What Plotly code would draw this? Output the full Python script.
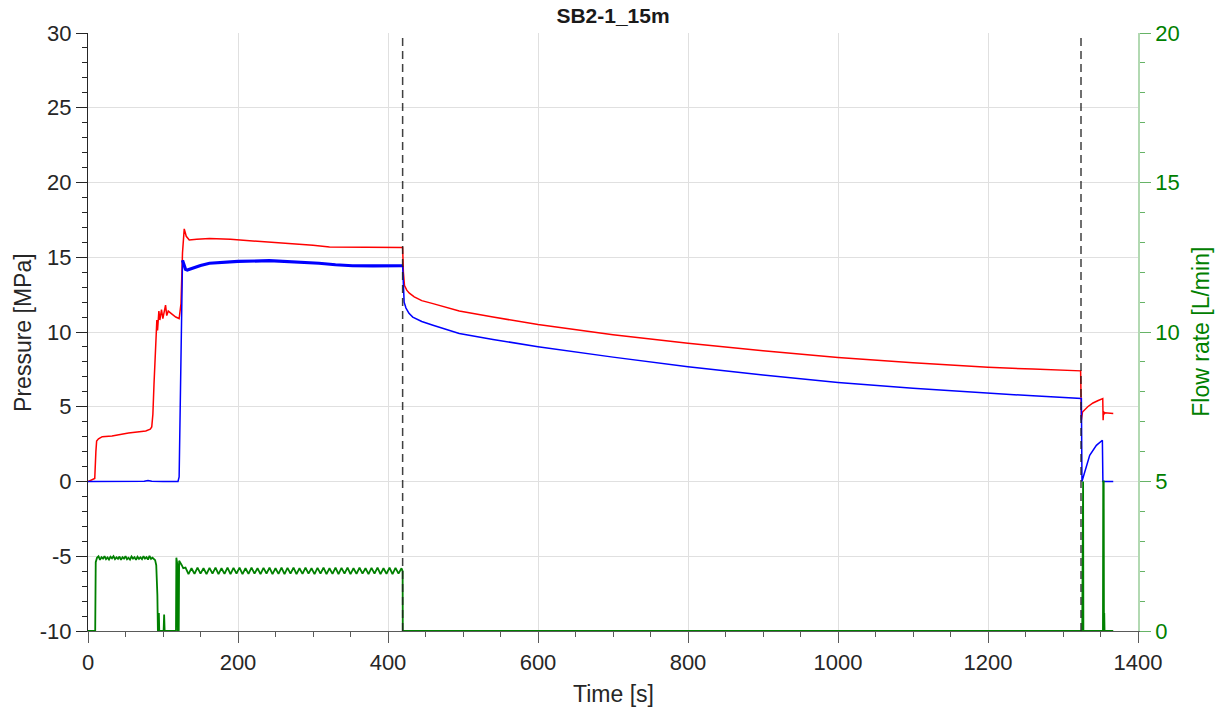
import plotly.graph_objects as go

# ---------------- data ----------------
# Red pressure [MPa]: (time s, value)
red_pts = [
    (0, 0), (5, 0.1), (9, 0.2), (10.5, 2.0), (11.5, 2.7), (14, 2.85), (19, 3.0), (32, 3.05),
    (54, 3.25), (77, 3.38), (83, 3.5), (85, 3.65), (86.5, 4.5), (88, 6.5), (89.5, 8.6),
    (91, 10.1), (91.8, 10.8), (92.7, 10.1), (94.5, 11.4), (95.8, 10.8), (98, 11.5),
    (99.8, 10.9), (103.4, 11.8), (105, 11.1), (107, 11.4), (112, 11.2), (117, 11.0),
    (121.5, 10.9), (124, 11.9), (126, 15.3), (128.3, 16.9), (131, 16.4), (135, 16.15),
    (145, 16.2), (162, 16.25), (190, 16.2), (220, 16.1), (264, 15.95), (300, 15.8),
    (322, 15.68), (360, 15.67), (400, 15.66), (419.5, 15.65), (420.5, 14.0), (422, 13.1),
    (425, 12.8), (428.5, 12.6), (435, 12.35), (445, 12.1), (460, 11.9), (472, 11.74),
    (495, 11.4), (540, 11.0), (600, 10.5), (700, 9.82), (800, 9.24), (900, 8.74),
    (1000, 8.3), (1100, 7.95), (1200, 7.64), (1260, 7.52), (1323.5, 7.4), (1324.5, 4.1),
    (1325, 4.4), (1326, 4.65), (1333, 5.0), (1340, 5.25), (1347, 5.42), (1353, 5.55),
    (1353.5, 4.1), (1354, 4.7), (1355, 4.5), (1356, 4.6), (1367, 4.55),
]

# Blue pressure [MPa], before the noisy plateau
blue_pre_pts = [
    (0, 0), (60, 0), (75, 0.02), (80, 0.07), (85, 0.02), (100, 0), (120, 0), (121.5, 0.3),
    (123, 5.0), (124.5, 12.0), (126, 14.8),
]
# Blue noisy plateau
blue_plateau_pts = [
    (126, 14.8), (128, 14.5), (130, 14.2), (132.4, 14.15), (140, 14.3), (150, 14.45),
    (162, 14.6), (180, 14.65), (200, 14.72), (241.6, 14.77), (270, 14.72), (308, 14.6),
    (330, 14.5), (352.7, 14.43), (380, 14.42), (419.5, 14.43),
]
# Blue after shut-in
blue_post_pts = [
    (419.5, 14.43), (420.5, 12.6), (421.5, 12.0), (424, 11.6), (428, 11.25), (433, 11.0),
    (445, 10.7), (460, 10.45), (472, 10.25), (495, 9.9), (540, 9.5), (600, 9.02),
    (700, 8.32), (800, 7.68), (900, 7.12), (1000, 6.63), (1100, 6.24), (1200, 5.9),
    (1260, 5.73), (1324.5, 5.56), (1325.3, 0), (1329, 0.64), (1335.6, 1.75),
    (1344.5, 2.42), (1352.5, 2.76), (1353.2, 0), (1367, 0),
]

# Green flow rate [L/min]
green_pts = [
    (0, 0), (9.6, 0), (10.3, 2.3), (11.2, 2.4), (12, 2.45), (14, 2.5), (16, 2.38), (18, 2.47),
    (20, 2.42), (22, 2.5), (24, 2.4), (26, 2.46), (28, 2.39), (30, 2.48), (32, 2.43),
    (34, 2.5), (36, 2.4), (38, 2.46), (40, 2.41), (42, 2.49), (44, 2.38), (46, 2.47),
    (48, 2.42), (50, 2.5), (52, 2.4), (54, 2.45), (56, 2.39), (58, 2.49), (60, 2.42),
    (62, 2.47), (64, 2.38), (66, 2.48), (68, 2.41), (70, 2.46), (72, 2.4), (74, 2.5),
    (76, 2.42), (78, 2.47), (80, 2.39), (82, 2.51), (84, 2.41), (86, 2.45), (88, 2.4),
    (89.5, 2.37), (91, 2.2), (92.5, 1.2), (93.2, 0), (94, 0), (94.5, 0.6), (95, 0),
    (100.8, 0), (101.5, 0.55), (102.2, 0), (117.3, 0), (117.8, 2.45), (118.6, 2.3),
    (119.3, 2.2), (119.8, 0), (121, 0), (121.5, 2.35), (123, 2.3), (125, 2.2), (127, 2.1),
    (130, 2.12), (134, 1.9), (138, 2.1), (142, 1.91), (146, 2.12), (150, 1.92), (154, 2.1),
    (158, 1.9), (162, 2.11), (166, 1.92), (170, 2.12), (174, 1.9), (178, 2.1), (182, 1.91),
    (186, 2.12), (190, 1.9), (194, 2.11), (198, 1.92), (202, 2.12), (206, 1.9), (210, 2.1),
    (214, 1.91), (218, 2.12), (222, 1.92), (226, 2.1), (230, 1.9), (234, 2.11), (238, 1.92),
    (242, 2.12), (246, 1.9), (250, 2.1), (254, 1.91), (258, 2.12), (262, 1.9), (266, 2.11),
    (270, 1.92), (274, 2.12), (278, 1.9), (282, 2.1), (286, 1.91), (290, 2.12), (294, 1.92),
    (298, 2.1), (302, 1.9), (306, 2.11), (310, 1.92), (314, 2.12), (318, 1.9), (322, 2.1),
    (326, 1.91), (330, 2.12), (334, 1.9), (338, 2.11), (342, 1.92), (346, 2.12), (350, 1.9),
    (354, 2.1), (358, 1.91), (362, 2.12), (366, 1.92), (370, 2.1), (374, 1.9), (378, 2.11),
    (382, 1.92), (386, 2.12), (390, 1.9), (394, 2.1), (398, 1.91), (402, 2.12), (406, 1.9),
    (410, 2.11), (414, 1.92), (418, 2.1), (419.5, 2.0), (419.7, 0), (1325.6, 0),
    (1326, 5.0), (1326.8, 5.0), (1327.2, 0), (1353.3, 0), (1353.6, 5.0), (1354.3, 5.0),
    (1354.6, 0), (1355, 0.6), (1355.4, 0), (1367, 0),
]

# Shut-in / event markers (time, s)
event_times = [419.5, 1324]

# Axes ranges and tick labels
x_range = [0, 1400]
p_range = [-10, 30]
q_range = [0, 20]
p_tick_vals = [-10, -5, 0, 5, 10, 15, 20, 25, 30]
p_tick_text = ["-10", "-5", "0", "5", "10", "15", "20", "25", "30"]

TITLE = "SB2-1_15m"
X_TITLE = "Time [s]"
Y_TITLE = "Pressure [MPa]"
Y2_TITLE = "Flow rate [L/min]"


def unzip(pts):
    return [p[0] for p in pts], [p[1] for p in pts]


FONT = "Liberation Sans, Arial, Helvetica, sans-serif"
TXT = "#262626"
GREEN = "#008000"

fig = go.Figure()

gx, gy = unzip(green_pts)
fig.add_trace(go.Scatter(x=gx, y=gy, mode="lines", yaxis="y2",
                         line=dict(color=GREEN, width=1.8), name="Flow rate",
                         showlegend=False))

rx, ry = unzip(red_pts)
fig.add_trace(go.Scatter(x=rx, y=ry, mode="lines",
                         line=dict(color="#ff0000", width=1.5), name="P1",
                         showlegend=False))

bx, by = unzip(blue_pre_pts)
fig.add_trace(go.Scatter(x=bx, y=by, mode="lines",
                         line=dict(color="#0000ff", width=1.5), name="P2",
                         showlegend=False))
bx, by = unzip(blue_plateau_pts)
fig.add_trace(go.Scatter(x=bx, y=by, mode="lines",
                         line=dict(color="#0000ff", width=3.2), name="P2",
                         showlegend=False))
bx, by = unzip(blue_post_pts)
fig.add_trace(go.Scatter(x=bx, y=by, mode="lines",
                         line=dict(color="#0000ff", width=1.5), name="P2",
                         showlegend=False))

for t in event_times:
    fig.add_shape(type="line", xref="x", yref="paper", x0=t, x1=t, y0=0, y1=1,
                  line=dict(color="rgba(30,30,30,0.85)", width=1.5, dash="8px,5px"),
                  layer="above")

fig.update_layout(
    width=1227, height=711,
    margin=dict(l=88, r=89, t=33, b=80, autoexpand=False),
    paper_bgcolor="white", plot_bgcolor="white",
    font=dict(family=FONT, color=TXT, size=22),
    title=dict(text="<b>" + TITLE + "</b>", x=0.5, xref="paper", y=0.978,
               yref="container", yanchor="middle", xanchor="center",
               font=dict(size=21, color="#1a1a1a")),
    xaxis=dict(range=x_range, dtick=200, tick0=0, showgrid=True, gridcolor="#e0e0e0",
               zeroline=False, showline=True, linecolor="#5a5a5a", linewidth=1.3,
               ticks="outside", ticklen=11, tickcolor="#5a5a5a", tickwidth=1.3,
               minor=dict(dtick=50, ticks="outside", ticklen=5, tickcolor="#5a5a5a",
                          tickwidth=1.3, showgrid=False),
               tickfont=dict(size=22, color=TXT)),
    yaxis=dict(range=p_range, tickmode="array", tickvals=p_tick_vals, ticktext=p_tick_text,
               showgrid=True, gridcolor="#e0e0e0",
               zeroline=False, showline=True, linecolor="#262626", linewidth=1.3,
               ticks="outside", ticklen=11, tickcolor="#262626", tickwidth=1.3,
               minor=dict(dtick=1, tick0=0, ticks="outside", ticklen=5, tickcolor="#262626",
                          tickwidth=1.3, showgrid=False),
               tickfont=dict(size=22, color=TXT)),
    yaxis2=dict(range=q_range, dtick=5, tick0=0, overlaying="y", side="right",
                showgrid=False, zeroline=False, showline=True,
                linecolor="rgba(0,128,0,0.3)", linewidth=1.5,
                ticks="outside", ticklen=11, tickcolor="rgba(0,128,0,0.6)", tickwidth=1.3,
                minor=dict(dtick=1, ticks="outside", ticklen=5,
                           tickcolor="rgba(0,128,0,0.6)", tickwidth=1.3, showgrid=False),
                tickfont=dict(size=22, color=GREEN)),
    annotations=[
        dict(text=X_TITLE, xref="paper", yref="paper", x=0.5, y=-0.105,
             xanchor="center", yanchor="middle", showarrow=False,
             font=dict(size=23, color=TXT)),
        dict(text=Y_TITLE, xref="paper", yref="paper", x=-0.062, y=0.5,
             xanchor="center", yanchor="middle", showarrow=False, textangle=-90,
             font=dict(size=23, color=TXT)),
        dict(text=Y2_TITLE, xref="paper", yref="paper", x=1.0597, y=0.5,
             xanchor="center", yanchor="middle", showarrow=False, textangle=-90,
             font=dict(size=23, color=GREEN)),
    ],
)

fig.write_html("out.html", config={"displayModeBar": False},
               post_script="document.body.style.margin='0px';")
